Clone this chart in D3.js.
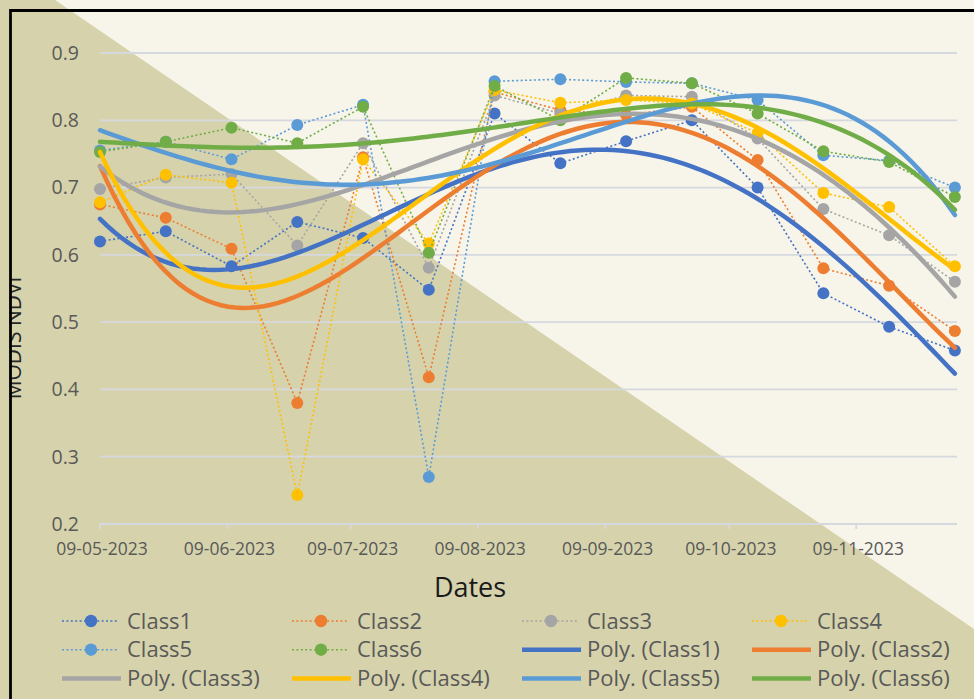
<!DOCTYPE html>
<html lang="en">
<head>
    <meta charset="UTF-8">
    <title>MODIS NDVI by class</title>
    <style>
        html, body { margin: 0; padding: 0; }
        body { font-family: "Open Sans", sans-serif; }
        .grid line { stroke: #d6d8e0; stroke-width: 1.8px; }
        .tick-label { fill: #595959; }
        .series-line { fill: none; stroke-width: 1.6px; stroke-dasharray: 2 2.4; }
        .trend { fill: none; stroke-width: 4.5px; stroke-linecap: round; }
    </style>
</head>
<body>
    <svg width="974" height="699"></svg>
    <script src="https://d3js.org/d3.v7.min.js"></script>
    <script>
        // 16-day MODIS composites
        const dates = ["09-05-2023", "25-05-2023", "10-06-2023", "26-06-2023", "12-07-2023", "28-07-2023", "13-08-2023",
                       "29-08-2023", "14-09-2023", "30-09-2023", "16-10-2023", "01-11-2023", "17-11-2023", "03-12-2023"];

        const class1 = [0.620, 0.635, 0.583, 0.649, 0.625, 0.548, 0.810, 0.736, 0.769, 0.800, 0.700, 0.543, 0.493, 0.458];
        const class2 = [0.675, 0.655, 0.609, 0.380, 0.745, 0.418, 0.842, 0.815, 0.808, 0.820, 0.741, 0.580, 0.554, 0.487];
        const class3 = [0.698, 0.715, 0.720, 0.614, 0.766, 0.581, 0.837, 0.810, 0.837, 0.835, 0.773, 0.668, 0.629, 0.560];
        const class4 = [0.678, 0.719, 0.707, 0.243, 0.742, 0.617, 0.845, 0.826, 0.830, 0.825, 0.781, 0.692, 0.671, 0.583];
        const class5 = [0.755, 0.768, 0.742, 0.793, 0.823, 0.270, 0.858, 0.861, 0.857, 0.855, 0.830, 0.748, 0.740, 0.700];
        const class6 = [0.753, 0.768, 0.789, 0.766, 0.820, 0.603, 0.851, 0.800, 0.863, 0.855, 0.810, 0.754, 0.738, 0.686];

        const seriesNames = ["Class1", "Class2", "Class3", "Class4", "Class5", "Class6"];
        const colors = ["#4472C4", "#ED7D31", "#A5A5A5", "#FFC000", "#5B9BD5", "#70AD47"];

        const xTickLabels = ["09-05-2023", "09-06-2023", "09-07-2023", "09-08-2023", "09-09-2023", "09-10-2023", "09-11-2023"];
        const yTicks = [0.2, 0.3, 0.4, 0.5, 0.6, 0.7, 0.8, 0.9];
        const polyOrder = 4;

        const parse = d3.timeParse("%d-%m-%Y");
        const allSeries = [class1, class2, class3, class4, class5, class6];

        const svg = d3.select("svg");

        // backdrop: cream with olive diagonal
        svg.append("rect").attr("width", 974).attr("height", 699).attr("fill", "#f7f4e9");
        svg.append("polygon")
            .attr("points", "0,0 55,0 974,629 974,699 0,699")
            .attr("fill", "#d6d3ac");

        const x = d3.scaleTime()
            .domain([parse("09-05-2023"), parse("04-12-2023")])
            .range([100, 959]);
        const y = d3.scaleLinear().domain([0.2, 0.9]).range([524, 53]);

        // gridlines
        svg.append("g").attr("class", "grid")
            .selectAll("line")
            .data(yTicks)
            .enter().append("line")
            .attr("x1", 100).attr("x2", 957)
            .attr("y1", d => y(d)).attr("y2", d => y(d));

        // x axis ticks
        const xAxis = svg.append("g").attr("transform", "translate(0,524)");
        xAxis.selectAll("line")
            .data(xTickLabels)
            .enter().append("line")
            .attr("x1", d => x(parse(d))).attr("x2", d => x(parse(d)))
            .attr("y1", 0).attr("y2", 5)
            .attr("stroke", "#d6d8e0").attr("stroke-width", 1.8);
        xAxis.selectAll("text")
            .data(xTickLabels)
            .enter().append("text")
            .attr("class", "tick-label")
            .attr("x", d => x(parse(d)) + 2)
            .attr("y", 31)
            .attr("text-anchor", "middle")
            .style("font-size", "17.5px")
            .text(d => d);

        // y labels
        svg.append("g").selectAll("text")
            .data(yTicks)
            .enter().append("text")
            .attr("class", "tick-label")
            .attr("x", 79)
            .attr("y", d => y(d))
            .attr("dy", "0.35em")
            .attr("text-anchor", "end")
            .style("font-size", "19.5px")
            .text(d => d.toFixed(1));

        // axis titles
        svg.append("text")
            .attr("x", 470).attr("y", 597)
            .attr("text-anchor", "middle")
            .style("font-size", "27px")
            .attr("fill", "#1a1a1a")
            .text("Dates");

        svg.append("text")
            .attr("transform", "translate(21,338) rotate(-90)")
            .attr("text-anchor", "middle")
            .style("font-size", "21px")
            .attr("fill", "#262626")
            .text("MODIS NDVI");

        // data series
        const dateVals = dates.map(parse);
        const line = d3.line().x((d, i) => x(dateVals[i])).y(d => y(d));

        allSeries.forEach((vals, s) => {
            const g = svg.append("g");
            g.append("path")
                .datum(vals)
                .attr("class", "series-line")
                .attr("stroke", colors[s])
                .attr("d", line);
            g.selectAll("circle")
                .data(vals)
                .enter().append("circle")
                .attr("cx", (d, i) => x(dateVals[i]))
                .attr("cy", d => y(d))
                .attr("r", 6)
                .attr("fill", colors[s]);
        });

        // least squares polynomial trend (like Excel "Poly." trendline)
        const t0 = +dateVals[0], tSpan = (+dateVals[dateVals.length - 1] - t0) / 2;
        const norm = d => (+d - t0) / tSpan - 1;

        function polyfit(ts, vs, order) {
            const m = order + 1;
            const A = d3.range(m).map(() => new Array(m + 1).fill(0));
            ts.forEach((t, k) => {
                for (let r = 0; r < m; r++) {
                    for (let c = 0; c < m; c++) A[r][c] += Math.pow(t, r + c);
                    A[r][m] += vs[k] * Math.pow(t, r);
                }
            });
            for (let c = 0; c < m; c++) {
                let p = c;
                for (let r = c + 1; r < m; r++) if (Math.abs(A[r][c]) > Math.abs(A[p][c])) p = r;
                [A[c], A[p]] = [A[p], A[c]];
                for (let r = 0; r < m; r++) {
                    if (r === c) continue;
                    const f = A[r][c] / A[c][c];
                    for (let k = c; k <= m; k++) A[r][k] -= f * A[c][k];
                }
            }
            return d3.range(m).map(r => A[r][m] / A[r][r]);
        }

        const ts = dateVals.map(norm);
        const samples = d3.range(0, 1.0001, 1 / 120).map(f => new Date(t0 + f * 2 * tSpan));
        const trendLine = d3.line().x(d => x(d[0])).y(d => y(d[1]));

        allSeries.forEach((vals, s) => {
            const coef = polyfit(ts, vals, polyOrder);
            const pts = samples.map(d => {
                const t = norm(d);
                return [d, coef.reduce((acc, c, k) => acc + c * Math.pow(t, k), 0)];
            });
            svg.append("path")
                .datum(pts)
                .attr("class", "trend")
                .attr("stroke", colors[s])
                .attr("d", trendLine);
        });

        // legend
        const legendItems = seriesNames.map((n, i) => ({ name: n, color: colors[i], poly: false }))
            .concat(seriesNames.map((n, i) => ({ name: "Poly. (" + n + ")", color: colors[i], poly: true })));

        const legend = svg.append("g")
            .selectAll("g")
            .data(legendItems)
            .enter().append("g")
            .attr("transform", (d, i) => `translate(${62 + 230 * (i % 4)},${621 + 28.7 * Math.floor(i / 4)})`);

        legend.append("line")
            .attr("x1", 0).attr("x2", d => d.poly ? 59 : 57)
            .attr("stroke", d => d.color)
            .attr("stroke-width", d => d.poly ? 4.5 : 1.6)
            .attr("stroke-dasharray", d => d.poly ? null : "2 2.4");

        legend.filter(d => !d.poly).append("circle")
            .attr("cx", 29).attr("r", 6.2)
            .attr("fill", d => d.color);

        legend.append("text")
            .attr("x", 65)
            .attr("dy", "0.35em")
            .attr("class", "tick-label")
            .style("font-size", "22px")
            .text(d => d.name);

        // frame edges
        svg.append("rect").attr("x", 0).attr("y", 0).attr("width", 9.5).attr("height", 699).attr("fill", "#d6d3ac");
        svg.append("path")
            .attr("d", "M10.5,699 V10.5 H974")
            .attr("fill", "none")
            .attr("stroke", "#000")
            .attr("stroke-width", 2.8);
    </script>
</body>
</html>
